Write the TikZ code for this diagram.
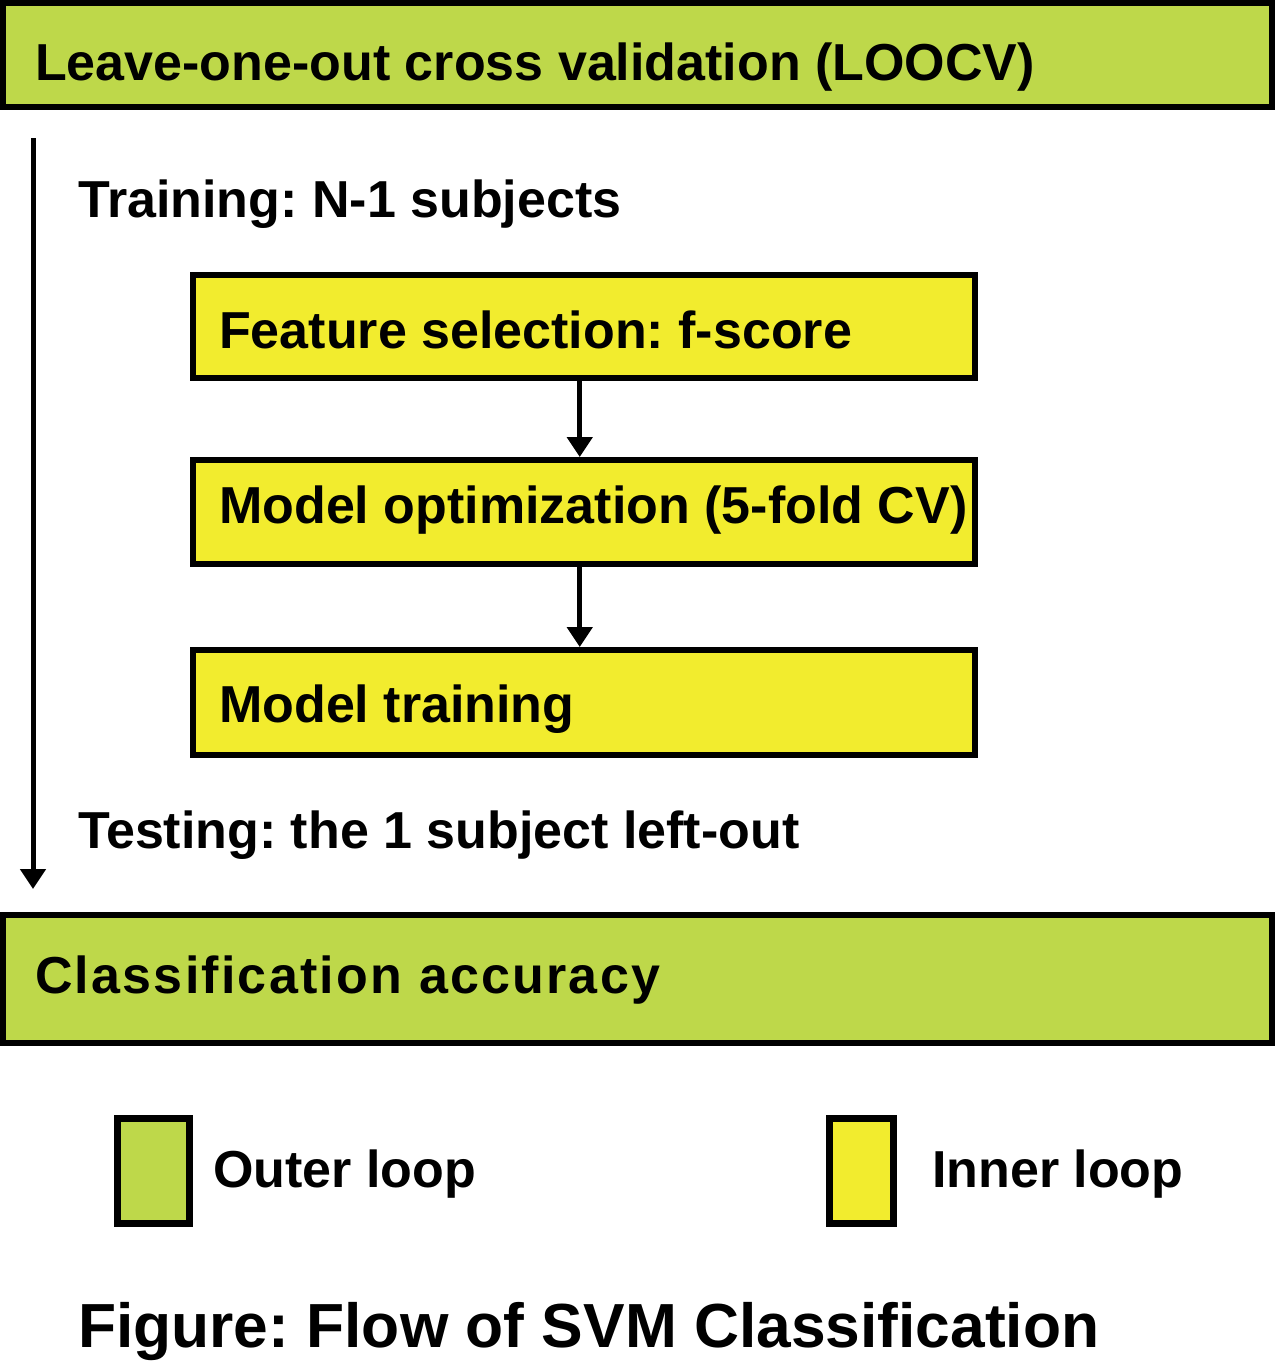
\documentclass[tikz,border=0pt]{standalone}
\usepackage{fontspec}
\setmainfont{Liberation Sans}
\usetikzlibrary{arrows.meta}
\definecolor{outergreen}{RGB}{190,216,74}
\definecolor{inneryellow}{RGB}{242,236,46}
\frenchspacing
\tikzset{
  outerbox/.style={draw=black, fill=outergreen, line width=6pt, inner sep=0pt, anchor=north west},
  innerbox/.style={draw=black, fill=inneryellow, line width=5.5pt, inner sep=0pt, anchor=north west},
  label52/.style={anchor=base west, inner sep=0pt, font=\fontsize{52}{60}\selectfont\bfseries},
  caption/.style={anchor=base west, inner sep=0pt, font=\fontsize{62.3}{70}\selectfont\bfseries},
  flow/.style={line width=5pt, -{Triangle[width=25pt,length=20pt]}},
}
\begin{document}
\begin{tikzpicture}[x=1pt,y=-1pt]
\useasboundingbox[fill=white] (0,0) rectangle (1275,1369);
% outer top box
\node[outerbox, minimum width=1269pt, minimum height=104pt] (loocv) at (0,0) {};
\node[label52] (loocvtxt) at (35,80) {Leave-one-out cross validation (LOOCV)};
% training label
\node[label52] (train) at (78,217) {Training: N-1 subjects};
% inner boxes
\node[innerbox, minimum width=782pt, minimum height=103pt] (fs) at (190,272) {};
\node[label52] (fstxt) at (219,348) {Feature selection: f-score};
\node[innerbox, minimum width=782pt, minimum height=104pt] (mo) at (190,457) {};
\node[label52] (motxt) at (219,523) {Model optimization (5-fold CV)};
\node[innerbox, minimum width=782pt, minimum height=105pt] (mt) at (190,647) {};
\node[label52] (mttxt) at (219,722) {Model training};
% testing label
\node[label52] (test) at (78,848) {Testing: the 1 subject left-out};
% bottom outer box
\node[outerbox, minimum width=1269pt, minimum height=128pt] (acc) at (0,912) {};
\node[label52] (acctxt) at (35,993) {\addfontfeature{LetterSpace=4.3}Classification accuracy};
% connectors
\draw[flow] ([xshift=-4pt]fs.south) -- ([xshift=-4pt]mo.north);
\draw[flow] ([xshift=-4pt]mo.south) -- ([xshift=-4pt]mt.north);
\coordinate (vstart) at (33,138);
\coordinate (vend) at (33,889);
\draw[flow] (vstart) -- (vend);
% legend
\node[outerbox, line width=6.5pt, minimum width=72pt, minimum height=105pt] (legout) at (114,1115) {};
\node[label52] (legouttxt) at (213,1187) {Outer loop};
\node[innerbox, line width=6.5pt, minimum width=64pt, minimum height=105pt] (legin) at (826,1115) {};
\node[label52] (legintxt) at (932,1187) {Inner loop};
% caption
\node[caption] (cap) at (78,1347) {Figure: Flow of SVM Classification};
\end{tikzpicture}
\end{document}
